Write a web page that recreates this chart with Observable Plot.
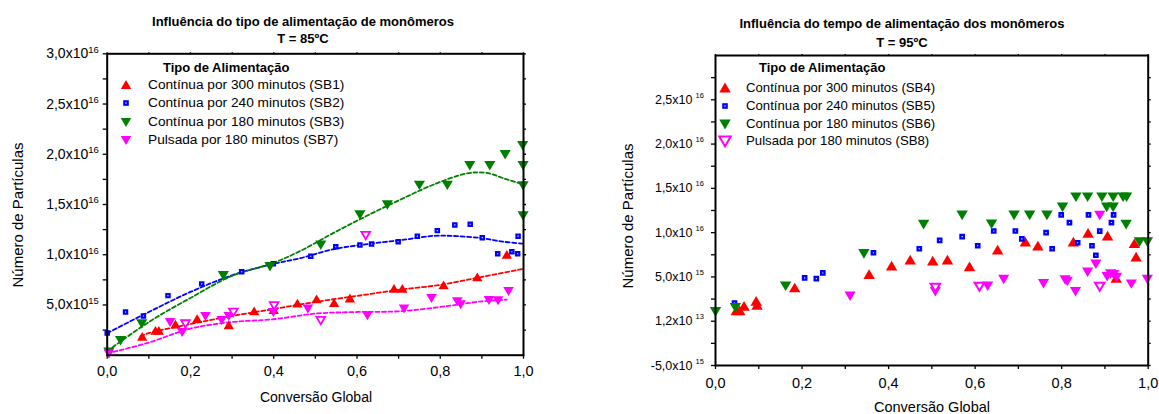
<!DOCTYPE html>
<html>
<head>
<meta charset="utf-8">
<script src="https://cdn.jsdelivr.net/npm/d3@7"></script>
<script src="https://cdn.jsdelivr.net/npm/@observablehq/plot@0.6"></script>
<style>
  body { margin: 0; background: #fff; font-family: "Liberation Sans", Arial, sans-serif; color: #000; }
  #root { position: relative; width: 1159px; height: 414px; overflow: hidden; background: #fff; }
  .abs { position: absolute; white-space: nowrap; }
  .ttl { font-weight: bold; font-size: 13px; transform: translate(-50%, -50%); }
  .axt { font-size: 14px; transform: translate(-50%, -50%); }
  .ayt { font-size: 15px; transform: translate(-50%, -50%) rotate(-90deg); }
  .leg { font-size: 13.7px; height: 18px; line-height: 18px; }
  .legt { font-weight: bold; font-size: 13px; height: 18px; line-height: 18px; }
</style>
</head>
<body>
<div id="root"></div>
<script>
// ---------- Data (y values in units of 10^15 particles) ----------
const xTicks = [0, 0.1, 0.2, 0.3, 0.4, 0.5, 0.6, 0.7, 0.8, 0.9, 1];
const xTickLabels = ["0,0", "", "0,2", "", "0,4", "", "0,6", "", "0,8", "", "1,0"];
const leftYTicks = [2.5, 5, 7.5, 10, 12.5, 15, 17.5, 20, 22.5, 25, 27.5, 30];
const leftYTickLabels = ["", "5,0x10^15", "", "1,0x10^16", "", "1,5x10^16", "", "2,0x10^16", "", "2,5x10^16", "", "3,0x10^16"];
const rightYTicks = [-5, -2.5, 0, 2.5, 5, 7.5, 10, 12.5, 15, 17.5, 20, 22.5, 25, 27.5];
const rightYTickLabels = ["-5,0x10^15", "", "1,2x10^13", "", "5,0x10^15", "", "1,0x10^16", "", "1,5x10^16", "", "2,0x10^16", "", "2,5x10^16", ""];

const leftTitle = ["Influência do tipo de alimentação de monômeros", "T = 85ºC"];
const rightTitle = ["Influência do tempo de alimentação dos monômeros", "T = 95ºC"];
const xTitle = "Conversão Global";
const yTitle = "Número de Partículas";
const legendTitle = "Tipo de Alimentação";
const leftLegend = ["Contínua por 300 minutos (SB1)", "Contínua por 240 minutos (SB2)", "Contínua por 180 minutos (SB3)", "Pulsada por 180 minutos (SB7)"];
const rightLegend = ["Contínua por 300 minutos (SB4)", "Contínua por 240 minutos (SB5)", "Contínua por 180 minutos (SB6)", "Pulsada por 180 minutos (SB8)"];

// T = 85 ºC
const sb1 = [[0.084,1.82],[0.116,2.42],[0.124,2.42],[0.164,3.05],[0.216,3.6],[0.292,2.98],[0.353,4.37],[0.40,4.5],[0.457,5.13],[0.503,5.56],[0.545,5.2],[0.583,5.65],[0.689,6.6],[0.709,6.6],[0.808,6.95],[0.889,7.75],[0.96,10.0]];
const sb2 = [[0.0,2.2],[0.044,4.3],[0.087,3.9],[0.146,5.93],[0.227,7.1],[0.323,8.3],[0.399,9.1],[0.489,9.85],[0.549,10.8],[0.607,10.96],[0.635,11.06],[0.699,11.3],[0.745,11.85],[0.793,12.4],[0.835,12.97],[0.872,13.04],[0.901,11.7],[0.938,10.1],[0.972,10.3],[0.986,10.1],[0.987,11.85]];
const sb3 = [[0.004,0.33],[0.032,1.49],[0.083,3.15],[0.279,7.95],[0.391,8.84],[0.513,11.0],[0.607,14.0],[0.673,15.0],[0.75,16.95],[0.817,16.95],[0.871,18.9],[0.919,18.9],[0.956,20.0],[0.998,20.9],[0.999,18.9],[0.999,16.9],[0.999,13.9]];
const sb7 = [[0.004,0.17],[0.151,3.3],[0.18,2.3],[0.236,3.9],[0.275,3.5],[0.292,3.9],[0.399,4.3],[0.482,4.64],[0.625,3.97],[0.713,4.64],[0.779,5.7],[0.841,5.36],[0.849,5.07],[0.917,5.5],[0.939,5.46],[0.964,6.39]];
const sb7Open = [[0.188,3.15],[0.303,4.3],[0.401,4.95],[0.513,3.48],[0.621,11.95]];
const sb1Fit = [[0.08,1.9],[0.1,2.2],[0.2,3.1],[0.3,3.9],[0.4,4.6],[0.5,5.3],[0.6,5.9],[0.7,6.5],[0.8,7.0],[0.9,7.8],[1.0,8.6]];
const sb2Fit = [[0,2.2],[0.1,4.3],[0.2,6.3],[0.3,7.95],[0.4,9.1],[0.465,9.67],[0.545,10.56],[0.625,11.06],[0.705,11.45],[0.785,11.88],[0.84,11.85],[0.9,11.65],[0.95,11.3],[1.0,11.1]];
const sb3Fit = [[0,0.4],[0.1,3.3],[0.2,5.7],[0.3,7.9],[0.4,9.2],[0.465,10.4],[0.545,12.2],[0.625,13.9],[0.705,15.5],[0.785,17.0],[0.865,18.1],[0.91,18.15],[0.96,17.5],[1.0,17.0]];
const sb7Fit = [[0,0.17],[0.1,1.26],[0.2,2.65],[0.3,3.3],[0.4,3.58],[0.5,4.14],[0.6,4.3],[0.7,4.37],[0.8,4.8],[0.9,5.36],[0.96,5.53]];

// T = 95 ºC
const sb4 = [[0.048,1.17],[0.056,1.17],[0.066,1.67],[0.094,2.23],[0.096,1.78],[0.183,3.75],[0.355,5.27],[0.407,6.21],[0.45,6.89],[0.502,6.78],[0.536,6.89],[0.587,6.14],[0.652,8.03],[0.716,8.94],[0.745,8.48],[0.827,8.94],[0.861,9.92],[0.906,9.62],[0.926,4.85],[0.968,8.75],[0.972,7.23]];
const sb5 = [[0.044,2.05],[0.206,4.89],[0.233,4.81],[0.248,5.45],[0.365,7.73],[0.471,8.18],[0.518,9.13],[0.57,9.55],[0.606,8.52],[0.643,10.19],[0.693,10.19],[0.708,9.3],[0.764,10.0],[0.778,8.18],[0.799,12.0],[0.818,11.13],[0.837,8.86],[0.862,12.0],[0.87,8.52],[0.879,7.45],[0.888,10.18],[0.915,11.14],[0.92,12.0]];
const sb6 = [[0.0,1.1],[0.046,1.55],[0.162,4.0],[0.343,7.65],[0.481,10.95],[0.57,12.0],[0.638,11.0],[0.69,12.0],[0.726,12.0],[0.766,12.0],[0.802,12.9],[0.833,14.05],[0.86,14.05],[0.893,14.05],[0.919,14.05],[0.904,12.9],[0.919,12.9],[0.942,14.05],[0.95,14.05],[0.949,10.95],[0.98,8.98],[0.998,8.98]];
const sb8 = [[0.311,2.88],[0.508,3.37],[0.629,4.01],[0.666,4.77],[0.758,4.28],[0.808,4.7],[0.813,4.55],[0.832,3.37],[0.86,5.57],[0.879,6.48],[0.888,12.0],[0.905,5.07],[0.913,5.38],[0.92,5.3],[0.927,5.0],[0.961,4.24],[0.998,4.77]];
const sb8Open = [[0.508,3.83],[0.61,3.94],[0.888,3.94]];

// ---------- Symbols ----------
function tri(up, aspect) {
  return {
    draw(ctx, size) {
      const w = Math.sqrt(size / (aspect / 2));
      const h = w * aspect;
      const s = up ? 1 : -1;
      ctx.moveTo(0, -s * h * 0.55);
      ctx.lineTo(w / 2, s * h * 0.45);
      ctx.lineTo(-w / 2, s * h * 0.45);
      ctx.closePath();
    }
  };
}
const triUp = tri(true, 0.85);
const triDown = tri(false, 0.85);

const RED = "#ff0000", BLUE = "#0000ff", GREEN = "#008000", MAGENTA = "#ff00ff";
const fx = d => d[0], fy = d => d[1];
const font = `"Liberation Sans", Arial, sans-serif`;
const dash = "4,2.5";

function lbl(ticks, labels) {
  const m = new Map(ticks.map((t, i) => [t, labels[i]]));
  return d => m.get(d) ?? "";
}

function supers(svg, size, dx, dy) {
  d3.select(svg).selectAll("text").each(function () {
    const t = this.textContent;
    if (!t.includes("^")) return;
    const [base, exp] = t.split("^");
    this.textContent = base;
    d3.select(this).append("tspan").attr("font-size", size).attr("dx", dx).attr("dy", dy).text(exp);
  });
}

const root = document.getElementById("root");

// ---------- Left chart ----------
const left = Plot.plot({
  width: 560, height: 414,
  marginLeft: 106.7, marginRight: 37, marginTop: 53.3, marginBottom: 59.3,
  style: { fontFamily: font, fontSize: "14px", color: "#000", background: "transparent", overflow: "visible" },
  x: { domain: [0, 1] },
  y: { domain: [0, 30] },
  marks: [
    Plot.axisX(xTicks, { anchor: "bottom", tickSize: 4, tickPadding: 6.3, tickFormat: lbl(xTicks, xTickLabels), fontSize: 14.5, label: null, strokeWidth: 1.3 }),
    Plot.axisX(xTicks, { anchor: "top", tickSize: 2, tickFormat: () => "", label: null, strokeWidth: 1.3 }),
    Plot.axisY(leftYTicks, { anchor: "left", tickSize: 4, tickPadding: 4.4, tickFormat: lbl(leftYTicks, leftYTickLabels), fontSize: 14, label: null, strokeWidth: 1.3 }),
    Plot.axisY(leftYTicks, { anchor: "right", tickSize: 2, tickFormat: () => "", label: null, strokeWidth: 1.3 }),
    Plot.line(sb1Fit, { x: fx, y: fy, stroke: RED, strokeWidth: 1.8, strokeDasharray: dash, curve: "catmull-rom" }),
    Plot.line(sb2Fit, { x: fx, y: fy, stroke: BLUE, strokeWidth: 1.8, strokeDasharray: dash, curve: "catmull-rom" }),
    Plot.line(sb3Fit, { x: fx, y: fy, stroke: GREEN, strokeWidth: 1.8, strokeDasharray: dash, curve: "catmull-rom" }),
    Plot.line(sb7Fit, { x: fx, y: fy, stroke: MAGENTA, strokeWidth: 1.8, strokeDasharray: dash, curve: "catmull-rom" }),
    Plot.dot(sb1, { x: fx, y: fy, symbol: triUp, r: 3.8, fill: RED }),
    Plot.dot(sb2, { x: fx, y: fy, symbol: "square", r: 1.85, fill: "#fff", stroke: BLUE, strokeWidth: 2.2 }),
    Plot.dot(sb3, { x: fx, y: fy, symbol: triDown, r: 4.1, fill: GREEN }),
    Plot.dot(sb7, { x: fx, y: fy, symbol: triDown, r: 3.9, fill: MAGENTA }),
    Plot.dot(sb7Open, { x: fx, y: fy, symbol: triDown, r: 3.2, fill: "#fff", stroke: MAGENTA, strokeWidth: 1.8 }),
    Plot.frame({ stroke: "#000", strokeWidth: 2 })
  ]
});
supers(left, 9.5, 0, -5.5);
const lw = document.createElement("div");
lw.className = "abs"; lw.style.left = "0px"; lw.style.top = "0px";
lw.appendChild(left);
root.appendChild(lw);

// ---------- Right chart ----------
const right = Plot.plot({
  width: 599, height: 414,
  marginLeft: 155, marginRight: 11.3, marginTop: 55, marginBottom: 49,
  style: { fontFamily: font, fontSize: "12.5px", color: "#000", background: "transparent", overflow: "visible" },
  x: { domain: [0, 1] },
  y: { domain: [-5, 30] },
  marks: [
    Plot.axisX(xTicks, { anchor: "bottom", tickSize: 4, tickPadding: 8.3, tickFormat: lbl(xTicks, xTickLabels), fontSize: 14.5, label: null, strokeWidth: 1.3 }),
    Plot.axisX(xTicks, { anchor: "top", tickSize: 2, tickFormat: () => "", label: null, strokeWidth: 1.3 }),
    Plot.axisY(rightYTicks, { anchor: "left", tickSize: 4, tickPadding: 7.7, tickFormat: lbl(rightYTicks, rightYTickLabels), fontSize: 12.5, label: null, strokeWidth: 1.3 }),
    Plot.axisY(rightYTicks, { anchor: "right", tickSize: 2, tickFormat: () => "", label: null, strokeWidth: 1.3 }),
    Plot.dot(sb4, { x: fx, y: fy, symbol: triUp, r: 4.2, fill: RED }),
    Plot.dot(sb5, { x: fx, y: fy, symbol: "square", r: 1.9, fill: "#fff", stroke: BLUE, strokeWidth: 2.3 }),
    Plot.dot(sb6, { x: fx, y: fy, symbol: triDown, r: 4.2, fill: GREEN }),
    Plot.dot(sb8, { x: fx, y: fy, symbol: triDown, r: 4.1, fill: MAGENTA }),
    Plot.dot(sb8Open, { x: fx, y: fy, symbol: triDown, r: 3.5, fill: "#fff", stroke: MAGENTA, strokeWidth: 2 }),
    Plot.frame({ stroke: "#000", strokeWidth: 2 })
  ]
});
supers(right, 7.5, 3, -6);
const rw = document.createElement("div");
rw.className = "abs"; rw.style.left = "560px"; rw.style.top = "0px";
rw.appendChild(right);
root.appendChild(rw);

// ---------- Text: titles, axis titles ----------
function addText(cls, text, x, y) {
  const d = document.createElement("div");
  d.className = "abs " + cls;
  d.style.left = x + "px"; d.style.top = y + "px";
  d.textContent = text;
  root.appendChild(d);
  return d;
}
addText("ttl", leftTitle[0], 303, 21.3);
addText("ttl", leftTitle[1], 303, 37.5);
addText("ttl", rightTitle[0], 902, 23.3);
addText("ttl", rightTitle[1], 902, 41.7);
addText("axt", xTitle, 316, 397);
addText("axt", xTitle, 932, 407).style.fontSize = "14.5px";
addText("ayt", yTitle, 17, 215);
addText("ayt", yTitle, 627, 216);

// ---------- Legends ----------
function symbolSvg(kind, color, w) {
  const ns = "http://www.w3.org/2000/svg";
  const s = document.createElementNS(ns, "svg");
  s.setAttribute("width", 16); s.setAttribute("height", 16);
  s.setAttribute("viewBox", "-8 -8 16 16");
  let el;
  if (kind === "square") {
    el = document.createElementNS(ns, "rect");
    el.setAttribute("x", -1.7); el.setAttribute("y", -1.7); el.setAttribute("width", 3.4); el.setAttribute("height", 3.4);
    el.setAttribute("fill", "#fff"); el.setAttribute("stroke", color); el.setAttribute("stroke-width", 2.2);
  } else {
    const h = w * 0.85;
    const sgn = kind === "up" || kind === "upOpen" ? 1 : -1;
    el = document.createElementNS(ns, "path");
    el.setAttribute("d", `M0,${-sgn * h * 0.55}L${w / 2},${sgn * h * 0.45}L${-w / 2},${sgn * h * 0.45}Z`);
    if (kind.endsWith("Open")) {
      el.setAttribute("fill", "#fff"); el.setAttribute("stroke", color); el.setAttribute("stroke-width", 2);
    } else {
      el.setAttribute("fill", color);
    }
  }
  s.appendChild(el);
  return s;
}
function addLegend(titleX, titleY, symX, textX, ys, labels, kinds, w) {
  addText("legt", legendTitle, titleX, titleY - 9);
  const colors = [RED, BLUE, GREEN, MAGENTA];
  labels.forEach((lab, i) => {
    const sv = symbolSvg(kinds[i], colors[i], w);
    sv.style.position = "absolute";
    sv.style.left = (symX - 8) + "px";
    sv.style.top = (ys[i] - 8) + "px";
    root.appendChild(sv);
    addText("leg", lab, textX, ys[i] - 9);
  });
}
addLegend(163, 68, 126, 148, [84.5, 103, 121.5, 139.5], leftLegend, ["up", "square", "down", "down"], 10.5);
addLegend(759, 67.7, 725, 746, [88, 105.5, 123.5, 141], rightLegend, ["up", "square", "down", "downOpen"], 11.5);
document.querySelectorAll(".leg").forEach((e, i) => { if (i >= 4) e.style.fontSize = "13.2px"; });
</script>
</body>
</html>
